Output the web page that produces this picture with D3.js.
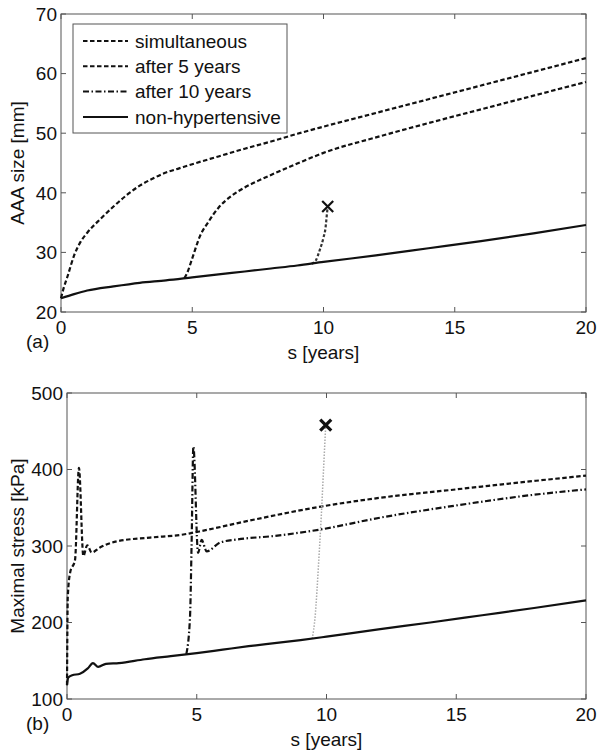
<!DOCTYPE html>
<html>
<head>
<meta charset="utf-8">
<script src="https://cdn.jsdelivr.net/npm/d3@7"></script>
<style>
  body { margin: 0; background: #fff; }
  text { font-family: "Liberation Sans", Arial, sans-serif; fill: #111; }
</style>
</head>
<body>
<div id="chart"></div>
<script>
// Panel (a): AAA size [mm]
var sizeSimS = [0, 0.1, 0.25, 0.5, 0.75, 1, 1.5, 2, 2.5, 3, 3.5, 4, 4.5, 5, 6, 7, 8, 9, 10, 12, 14, 16, 18, 20];
var sizeSimV = [22.3, 24, 26, 29.5, 31.8, 33.3, 35.6, 37.7, 39.6, 41.2, 42.4, 43.4, 44.1, 44.8, 46.1, 47.4, 48.6, 49.9, 51.1, 53.4, 55.7, 58, 60.3, 62.6];
var size5S = [4.7, 4.8, 5, 5.3, 5.6, 6, 6.5, 7, 7.5, 8, 9, 10, 12, 14, 16, 18, 20];
var size5V = [25.7, 26.5, 29, 32.8, 35, 37.5, 39.5, 40.9, 42, 43, 44.9, 46.7, 49.3, 51.7, 54, 56.3, 58.6];
var size10S = [9.55, 9.7, 9.85, 10.0, 10.08, 10.12, 10.16];
var size10V = [28.1, 28.6, 30.3, 32.5, 34.2, 36, 37.7];
var sizeNonS = [0, 0.5, 1, 2, 3, 4, 5, 6, 7, 8, 9, 10, 12, 14, 16, 18, 20];
var sizeNonV = [22.3, 23.0, 23.6, 24.3, 24.9, 25.3, 25.8, 26.3, 26.8, 27.3, 27.8, 28.4, 29.5, 30.7, 31.9, 33.2, 34.6];

// Panel (b): maximal stress [kPa]
var stressSimS = [0, 0.03, 0.12, 0.31, 0.46, 0.63, 0.78, 0.95, 1.27, 1.91, 3.2, 4.48, 5.1, 7, 9.87, 12.06, 15, 18, 20];
var stressSimV = [118, 233, 265, 282, 402, 287, 301, 291.5, 298, 306, 311, 315, 319, 333, 352, 363, 374, 385, 392];
var stress5S = [4.6, 4.74, 4.8, 4.87, 5.05, 5.19, 5.38, 5.9, 6.54, 7.95, 9.75, 12.06, 15, 18, 20];
var stress5V = [159, 207, 300, 430, 291, 308, 293, 304.5, 308.5, 313, 321.5, 337, 353, 367, 374];
var stress10S = [9.45, 9.56, 9.7, 9.8, 9.9, 9.97];
var stress10V = [179, 207, 280, 340, 410, 458];
var stressNonS = [0, 0.05, 0.2, 0.5, 0.8, 1.0, 1.2, 1.5, 2.0, 3, 4, 5, 6, 7, 8, 9, 10, 12, 14, 16, 18, 20];
var stressNonV = [118, 128, 131, 133, 140, 147, 142, 146, 147, 152, 156, 160, 164.5, 169, 173, 177, 181.5, 191, 200, 209.5, 219, 229];

var xTicks = [0, 5, 10, 15, 20];
var sizeTicks = [20, 30, 40, 50, 60, 70];
var stressTicks = [100, 200, 300, 400, 500];
var legendLabels = ["simultaneous", "after 5 years", "after 10 years", "non-hypertensive"];

var fontSize = 19;

var svg = d3.select("#chart").append("svg")
  .attr("width", 603)
  .attr("height", 754);

function zip(s, v) {
  return s.map(function(d, i) { return [d, v[i]]; });
}

// draws one MATLAB-style panel
function drawPanel(p) {
  var x = d3.scaleLinear().domain([0, 20]).range([p.left, p.right]);
  var y = d3.scaleLinear().domain(p.yDomain).range([p.bottom, p.top]);
  var g = svg.append("g");
  var tick = 5;

  // box
  g.append("rect")
    .attr("x", p.left).attr("y", p.top)
    .attr("width", p.right - p.left).attr("height", p.bottom - p.top)
    .attr("fill", "none").attr("stroke", "#555").attr("stroke-width", 1);

  // inward ticks on all four sides
  xTicks.forEach(function(t) {
    g.append("line").attr("x1", x(t)).attr("x2", x(t))
      .attr("y1", p.bottom).attr("y2", p.bottom - tick).attr("stroke", "#555");
    g.append("line").attr("x1", x(t)).attr("x2", x(t))
      .attr("y1", p.top).attr("y2", p.top + tick).attr("stroke", "#555");
    g.append("text").attr("x", x(t)).attr("y", p.bottom + 22)
      .attr("text-anchor", "middle").attr("font-size", fontSize).text(t);
  });
  p.yTicks.forEach(function(t) {
    g.append("line").attr("x1", p.left).attr("x2", p.left + tick)
      .attr("y1", y(t)).attr("y2", y(t)).attr("stroke", "#555");
    g.append("line").attr("x1", p.right).attr("x2", p.right - tick)
      .attr("y1", y(t)).attr("y2", y(t)).attr("stroke", "#555");
    g.append("text").attr("x", p.left - 4).attr("y", y(t)).attr("dy", "0.36em")
      .attr("text-anchor", "end").attr("font-size", fontSize).text(t);
  });

  var line = d3.line()
    .curve(d3.curveMonotoneX)
    .x(function(d) { return x(d[0]); })
    .y(function(d) { return y(d[1]); });

  p.series.forEach(function(s) {
    g.append("path")
      .datum(s.data)
      .attr("d", line)
      .attr("fill", "none")
      .attr("stroke", s.color || "#111")
      .attr("stroke-width", s.width || 2.2)
      .attr("stroke-dasharray", s.dash || null)
      .attr("stroke-linejoin", "round");
  });

  // cross at rupture
  var last = p.cross;
  var cx = x(last[0]), cy = y(last[1]), r = p.crossSize;
  g.append("path")
    .attr("d", "M" + (cx - r) + "," + (cy - r) + "L" + (cx + r) + "," + (cy + r) +
               "M" + (cx - r) + "," + (cy + r) + "L" + (cx + r) + "," + (cy - r))
    .attr("stroke", "#111").attr("stroke-width", p.crossWidth);

  // axis labels
  g.append("text")
    .attr("transform", "translate(" + p.yLabelX + "," + ((p.top + p.bottom) / 2) + ") rotate(-90)")
    .attr("text-anchor", "middle").attr("font-size", fontSize).text(p.yLabel);
  g.append("text")
    .attr("x", (p.left + p.right) / 2).attr("y", p.bottom + 47)
    .attr("text-anchor", "middle").attr("font-size", fontSize).text("s [years]");
  g.append("text")
    .attr("x", 26).attr("y", p.bottom + p.tagDy)
    .attr("font-size", fontSize).text(p.tag);

  return { x: x, y: y };
}

var dashed = "4.5,2.5";
var dashDot = "6,2.5,1.5,2.5";

drawPanel({
  left: 61, right: 586, top: 14, bottom: 312,
  yDomain: [20, 70], yTicks: sizeTicks,
  yLabel: "AAA size [mm]", yLabelX: 24, tag: "(a)", tagDy: 36,
  cross: [size10S[size10S.length - 1], size10V[size10V.length - 1]],
  crossSize: 5.5, crossWidth: 2.2,
  series: [
    { data: zip(sizeSimS, sizeSimV), dash: dashed },
    { data: zip(size5S, size5V), dash: dashed },
    { data: zip(size10S, size10V), dash: "3,2", color: "#333" },
    { data: zip(sizeNonS, sizeNonV) }
  ]
});

drawPanel({
  left: 67, right: 586, top: 393, bottom: 699,
  yDomain: [100, 500], yTicks: stressTicks,
  yLabel: "Maximal stress [kPa]", yLabelX: 24, tag: "(b)", tagDy: 31,
  cross: [stress10S[stress10S.length - 1], stress10V[stress10V.length - 1]],
  crossSize: 5.5, crossWidth: 3.2,
  series: [
    { data: zip(stressSimS, stressSimV), dash: dashed },
    { data: zip(stress5S, stress5V), dash: dashDot },
    { data: zip(stress10S, stress10V), dash: "1.5,1.5", color: "#aaa", width: 1.5 },
    { data: zip(stressNonS, stressNonV) }
  ]
});

// legend for panel (a)
var legend = svg.append("g");
legend.append("rect")
  .attr("x", 73).attr("y", 24).attr("width", 214).attr("height", 109)
  .attr("fill", "#fff").attr("stroke", "#555").attr("stroke-width", 1);
var legendDash = [dashed, dashed, dashDot, null];
legendLabels.forEach(function(name, i) {
  var ly = 41 + i * 25.3;
  legend.append("line")
    .attr("x1", 83).attr("x2", 128).attr("y1", ly).attr("y2", ly)
    .attr("stroke", "#111").attr("stroke-width", 2)
    .attr("stroke-dasharray", legendDash[i]);
  legend.append("text")
    .attr("x", 135).attr("y", ly).attr("dy", "0.36em")
    .attr("font-size", fontSize).text(name);
});
</script>
</body>
</html>
